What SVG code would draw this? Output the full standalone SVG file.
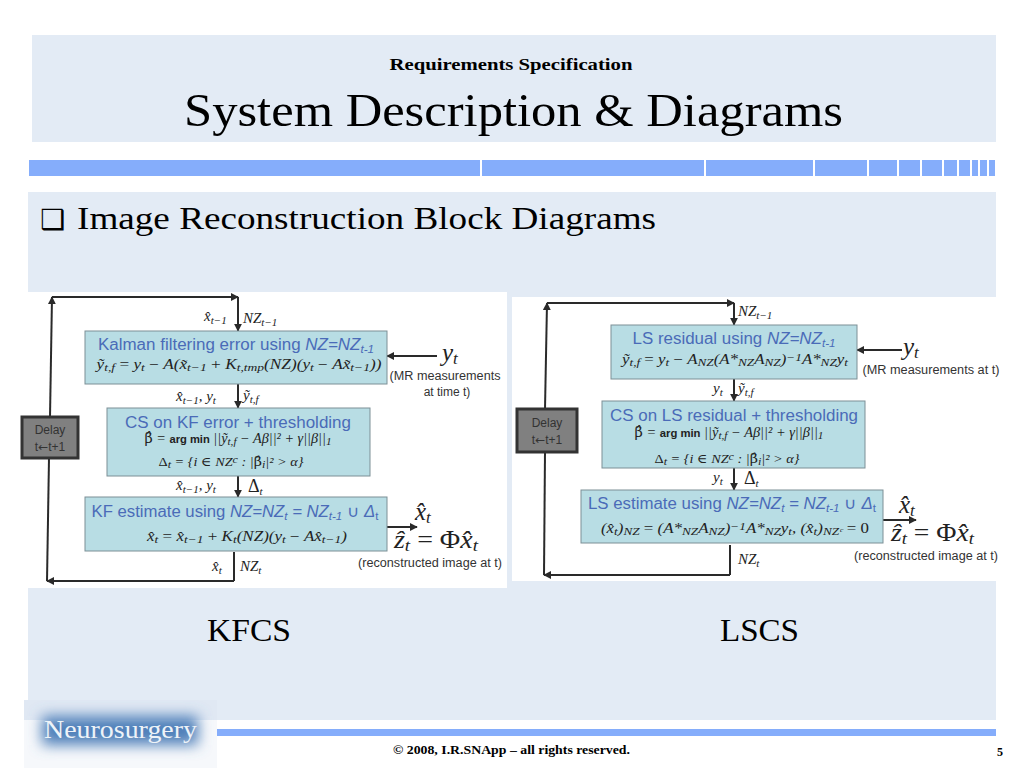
<svg xmlns="http://www.w3.org/2000/svg" width="1024" height="768" viewBox="0 0 1024 768">
<style>
.serif{font-family:"Liberation Serif",serif}
.hd{font-family:"Liberation Serif",serif;fill:#000}
.blue{font-family:"Liberation Sans",sans-serif;fill:#4a6bb8;font-size:16px;text-anchor:middle}
.blue .i{font-style:italic}
.sub{font-size:11px}
.note{font-family:"Liberation Sans",sans-serif;fill:#333;font-size:12px;text-anchor:middle}
.m{font-family:"Liberation Serif","DejaVu Serif",serif;font-style:italic;fill:#222;font-size:15px}
.m13{font-size:14px}
.m12{font-size:13px}
.big{font-size:25px}
.big .b2{font-size:17px}
.c{text-anchor:middle}
.box{fill:#b8dde4;stroke:#7d8f96;stroke-width:1}
.delay{fill:#808080;stroke:#333;stroke-width:3}
.dtx{font-family:"Liberation Sans",sans-serif;fill:#333;font-size:12px;text-anchor:middle}
.ln{fill:none;stroke:#2a2a2a;stroke-width:2}
.seg{fill:#85adfb}
.am{font-family:"Liberation Sans",sans-serif;font-style:normal;font-weight:bold;font-size:11px}
.bh{font-family:"DejaVu Serif",serif;font-style:normal}
</style>
<defs>
<marker id="a" markerWidth="4" markerHeight="4" refX="3.600" refY="2" orient="auto" markerUnits="strokeWidth"><path d="M0,0L4,2L0,4z" fill="#2a2a2a"/></marker>
<filter id="bl" x="-30%" y="-80%" width="160%" height="260%"><feGaussianBlur stdDeviation="7"/></filter>
</defs>
<rect width="1024" height="768" fill="#fff"/>
<g id="header">
<rect x="32" y="35" width="964" height="107" fill="#e3ebf5"/>
<text class="hd c" x="511" y="70" font-size="16" font-weight="bold" textLength="243" lengthAdjust="spacingAndGlyphs">Requirements Specification</text>
<text class="hd c" x="513.500" y="126" font-size="46" textLength="659" lengthAdjust="spacingAndGlyphs">System Description &amp; Diagrams</text>
</g>
<g id="bar">
<rect class="seg" x="29" y="160" width="451" height="16"/>
<rect class="seg" x="482" y="160" width="222" height="16"/>
<rect class="seg" x="706" y="160" width="107" height="16"/>
<rect class="seg" x="815" y="160" width="52" height="16"/>
<rect class="seg" x="869" y="160" width="28" height="16"/>
<rect class="seg" x="899" y="160" width="21" height="16"/>
<rect class="seg" x="922" y="160" width="20" height="16"/>
<rect class="seg" x="944" y="160" width="13" height="16"/>
<rect class="seg" x="959" y="160" width="11" height="16"/>
<rect class="seg" x="972" y="160" width="6" height="16"/>
<rect class="seg" x="980" y="160" width="7" height="16"/>
<rect class="seg" x="989" y="160" width="6" height="16"/>
</g>
<g id="panel">
<rect x="28" y="192" width="968" height="528" fill="#e3ebf5"/>
<text x="40" y="229" font-family="DejaVu Sans, sans-serif" font-size="28" fill="#000">❑</text>
<text class="hd" x="77" y="229" font-size="32" textLength="579" lengthAdjust="spacingAndGlyphs">Image Reconstruction Block Diagrams</text>
<text class="hd c" x="249" y="641" font-size="32" textLength="84" lengthAdjust="spacingAndGlyphs">KFCS</text>
<text class="hd c" x="759.500" y="641" font-size="32" textLength="79" lengthAdjust="spacingAndGlyphs">LSCS</text>
</g>
<rect x="28" y="292" width="479" height="296" fill="#fff"/>
<rect x="512" y="297" width="484" height="284" fill="#fff"/>
<g id="connectors">
<path class="ln" marker-end="url(#a)" d="M50,417L52,297"/>
<path class="ln" marker-end="url(#a)" d="M52,297H238"/>
<path class="ln" marker-end="url(#a)" d="M238,297V331"/>
<path class="ln" marker-end="url(#a)" d="M238,384V408"/>
<path class="ln" marker-end="url(#a)" d="M238,476V497"/>
<path class="ln" d="M234,552V581"/>
<path class="ln" marker-end="url(#a)" d="M234,581H47"/>
<path class="ln" d="M47,581L49,458"/>
<path class="ln" marker-end="url(#a)" d="M437,356H387"/>
<path class="ln" marker-end="url(#a)" d="M387,527H417"/>
<path class="ln" marker-end="url(#a)" d="M545,409L547,303"/>
<path class="ln" marker-end="url(#a)" d="M547,303H734"/>
<path class="ln" marker-end="url(#a)" d="M734,303V325"/>
<path class="ln" marker-end="url(#a)" d="M734,379V401"/>
<path class="ln" marker-end="url(#a)" d="M734,468V490"/>
<path class="ln" d="M730,545V575"/>
<path class="ln" marker-end="url(#a)" d="M730,575H544"/>
<path class="ln" d="M544,575L545,452"/>
<path class="ln" marker-end="url(#a)" d="M902,350H857"/>
<path class="ln" marker-end="url(#a)" d="M883,520H916"/>
</g>
<g id="kf-labels">
<text class="m" x="204" y="321">x̂<tspan class="sub" dy="3">t−1</tspan></text>
<text class="m" x="243" y="323">NZ<tspan class="sub" dy="3">t−1</tspan></text>
<text class="m" x="176" y="401">x̂<tspan class="sub" dy="3">t−1</tspan><tspan dy="-3">,  y</tspan><tspan class="sub" dy="3">t</tspan></text>
<text class="m" x="243" y="400">ỹ<tspan class="sub" dy="3">t,f</tspan></text>
<text class="m" x="176" y="490">x̂<tspan class="sub" dy="3">t−1</tspan><tspan dy="-3">,  y</tspan><tspan class="sub" dy="3">t</tspan></text>
<text class="m" x="248" y="492" style="font-size:18px"><tspan font-style="normal">Δ</tspan><tspan class="sub" dy="3">t</tspan></text>
<text class="m" x="212" y="571">x̂<tspan class="sub" dy="3">t</tspan></text>
<text class="m" x="240" y="571">NZ<tspan class="sub" dy="3">t</tspan></text>
<text class="m big" x="442" y="361">y<tspan class="b2" dy="3">t</tspan></text>
<text class="note" x="445" y="380" textLength="111" lengthAdjust="spacingAndGlyphs">(MR measurements</text>
<text class="note" x="447" y="396">at time t)</text>
<text class="m big" x="415" y="520">x̂<tspan class="b2" dy="3">t</tspan></text>
<text class="m big" x="394" y="548" textLength="84" lengthAdjust="spacingAndGlyphs">ẑ<tspan class="b2" dy="3">t</tspan><tspan dy="-3" font-style="normal"> = Φ</tspan>x̂<tspan class="b2" dy="3">t</tspan></text>
<text class="note" x="430" y="567" textLength="144" lengthAdjust="spacingAndGlyphs">(reconstructed image at t)</text>
</g>
<g id="kf-delay"><rect class="delay" x="22" y="417" width="56" height="41"/><text class="dtx" x="50" y="434">Delay</text><text class="dtx" x="50" y="451">t<tspan font-family="DejaVu Sans">←</tspan>t+1</text></g>
<g id="kf-error"><rect class="box" x="85" y="331" width="302" height="53"/>
<text class="blue" x="236" y="350" textLength="276" lengthAdjust="spacingAndGlyphs">Kalman filtering error using <tspan class="i">NZ=NZ</tspan><tspan class="i sub" dy="3">t-1</tspan></text>
<text class="m m13 c" x="239" y="369" textLength="285" lengthAdjust="spacingAndGlyphs">ỹ<tspan class="sub" dy="2">t,f</tspan><tspan dy="-2" font-style="normal"> = </tspan>y<tspan class="sub" dy="2">t</tspan><tspan dy="-2" font-style="normal"> − </tspan>A(x̃<tspan class="sub" dy="2">t−1</tspan><tspan dy="-2" font-style="normal"> + </tspan>K<tspan class="sub" dy="2">t,tmp</tspan><tspan dy="-2">(NZ)(y</tspan><tspan class="sub" dy="2">t</tspan><tspan dy="-2" font-style="normal"> − </tspan>Ax̃<tspan class="sub" dy="2">t−1</tspan><tspan dy="-2">))</tspan></text></g>
<g id="kf-cs"><rect class="box" x="107" y="408" width="263" height="68"/>
<text class="blue" x="238" y="428" textLength="226" lengthAdjust="spacingAndGlyphs">CS on KF error + thresholding</text>
<text class="m m13 c" x="238" y="443" textLength="187" lengthAdjust="spacingAndGlyphs"><tspan class="bh">β̂</tspan> = <tspan class="am">arg min</tspan> ||ỹ<tspan class="sub" dy="2">t,f</tspan><tspan dy="-2"> − Aβ||²</tspan> + γ||β||<tspan class="sub" dy="2">1</tspan></text>
<text class="m m12 c" x="231" y="466" textLength="145" lengthAdjust="spacingAndGlyphs"><tspan font-style="normal">Δ</tspan><tspan class="sub" dy="2">t</tspan><tspan dy="-2"> = {i ∈ NZ</tspan><tspan class="sub" dy="-3">c</tspan><tspan dy="3"> : |</tspan><tspan class="bh">β̂</tspan><tspan class="sub" dy="2">i</tspan><tspan dy="-2">|² &gt; α}</tspan></text></g>
<g id="kf-est"><rect class="box" x="85" y="497" width="302" height="54"/>
<text class="blue" x="235" y="517" textLength="287" lengthAdjust="spacingAndGlyphs">KF estimate using <tspan class="i">NZ=NZ</tspan><tspan class="i sub" dy="3">t</tspan><tspan class="i" dy="-3"> = NZ</tspan><tspan class="i sub" dy="3">t-1</tspan><tspan dy="-3"> ∪ </tspan><tspan class="i">Δ</tspan><tspan class="sub" dy="3">t</tspan></text>
<text class="m m13 c" x="247" y="541" textLength="200" lengthAdjust="spacingAndGlyphs">x̂<tspan class="sub" dy="2">t</tspan><tspan dy="-2" font-style="normal"> = </tspan>x̂<tspan class="sub" dy="2">t−1</tspan><tspan dy="-2" font-style="normal"> + </tspan>K<tspan class="sub" dy="2">t</tspan><tspan dy="-2">(NZ)(y</tspan><tspan class="sub" dy="2">t</tspan><tspan dy="-2" font-style="normal"> − </tspan>Ax̂<tspan class="sub" dy="2">t−1</tspan><tspan dy="-2">)</tspan></text></g>
<g id="ls-labels">
<text class="m" x="738" y="316">NZ<tspan class="sub" dy="3">t−1</tspan></text>
<text class="m" x="713" y="393">y<tspan class="sub" dy="3">t</tspan></text>
<text class="m" x="738" y="393">ỹ<tspan class="sub" dy="3">t,f</tspan></text>
<text class="m" x="713" y="482">y<tspan class="sub" dy="3">t</tspan></text>
<text class="m" x="744" y="484" style="font-size:18px"><tspan font-style="normal">Δ</tspan><tspan class="sub" dy="3">t</tspan></text>
<text class="m" x="738" y="564">NZ<tspan class="sub" dy="3">t</tspan></text>
<text class="m big" x="903" y="355">y<tspan class="b2" dy="3">t</tspan></text>
<text class="note" x="931" y="374" textLength="137" lengthAdjust="spacingAndGlyphs">(MR measurements at t)</text>
<text class="m big" x="899" y="513">x̂<tspan class="b2" dy="3">t</tspan></text>
<text class="m big" x="891" y="541" textLength="83" lengthAdjust="spacingAndGlyphs">ẑ<tspan class="b2" dy="3">t</tspan><tspan dy="-3" font-style="normal"> = Φ</tspan>x̂<tspan class="b2" dy="3">t</tspan></text>
<text class="note" x="926" y="560" textLength="144" lengthAdjust="spacingAndGlyphs">(reconstructed image at t)</text>
</g>
<g id="ls-delay"><rect class="delay" x="517" y="409" width="60" height="43"/><text class="dtx" x="547" y="427">Delay</text><text class="dtx" x="547" y="444">t<tspan font-family="DejaVu Sans">←</tspan>t+1</text></g>
<g id="ls-res"><rect class="box" x="611" y="325" width="246" height="54"/>
<text class="blue" x="734" y="344" textLength="203" lengthAdjust="spacingAndGlyphs">LS residual using <tspan class="i">NZ=NZ</tspan><tspan class="i sub" dy="3">t-1</tspan></text>
<text class="m m13 c" x="735" y="364" textLength="226" lengthAdjust="spacingAndGlyphs">ỹ<tspan class="sub" dy="2">t,f</tspan><tspan dy="-2" font-style="normal"> = </tspan>y<tspan class="sub" dy="2">t</tspan><tspan dy="-2" font-style="normal"> − </tspan>A<tspan class="sub" dy="2">NZ</tspan><tspan dy="-2">(A*</tspan><tspan class="sub" dy="2">NZ</tspan><tspan dy="-2">A</tspan><tspan class="sub" dy="2">NZ</tspan><tspan dy="-2">)</tspan><tspan class="sub" dy="-3">−1</tspan><tspan dy="3">A*</tspan><tspan class="sub" dy="2">NZ</tspan><tspan dy="-2">y</tspan><tspan class="sub" dy="2">t</tspan></text></g>
<g id="ls-cs"><rect class="box" x="602" y="401" width="263" height="67"/>
<text class="blue" x="734" y="421" textLength="248" lengthAdjust="spacingAndGlyphs">CS on LS residual + thresholding</text>
<text class="m m13 c" x="729" y="437" textLength="189" lengthAdjust="spacingAndGlyphs"><tspan class="bh">β̂</tspan> = <tspan class="am">arg min</tspan> ||ỹ<tspan class="sub" dy="2">t,f</tspan><tspan dy="-2"> − Aβ||²</tspan> + γ||β||<tspan class="sub" dy="2">1</tspan></text>
<text class="m m12 c" x="727" y="463" textLength="145" lengthAdjust="spacingAndGlyphs"><tspan font-style="normal">Δ</tspan><tspan class="sub" dy="2">t</tspan><tspan dy="-2"> = {i ∈ NZ</tspan><tspan class="sub" dy="-3">c</tspan><tspan dy="3"> : |</tspan><tspan class="bh">β̂</tspan><tspan class="sub" dy="2">i</tspan><tspan dy="-2">|² &gt; α}</tspan></text></g>
<g id="ls-est"><rect class="box" x="581" y="490" width="302" height="53"/>
<text class="blue" x="732" y="509" textLength="288" lengthAdjust="spacingAndGlyphs">LS estimate using <tspan class="i">NZ=NZ</tspan><tspan class="i sub" dy="3">t</tspan><tspan class="i" dy="-3"> = NZ</tspan><tspan class="i sub" dy="3">t-1</tspan><tspan dy="-3"> ∪ </tspan><tspan class="i">Δ</tspan><tspan class="sub" dy="3">t</tspan></text>
<text class="m m13 c" x="735" y="533" textLength="268" lengthAdjust="spacingAndGlyphs">(x̂<tspan class="sub" dy="2">t</tspan><tspan dy="-2">)</tspan><tspan class="sub" dy="2">NZ</tspan><tspan dy="-2" font-style="normal"> = </tspan>(A*<tspan class="sub" dy="2">NZ</tspan><tspan dy="-2">A</tspan><tspan class="sub" dy="2">NZ</tspan><tspan dy="-2">)</tspan><tspan class="sub" dy="-3">−1</tspan><tspan dy="3">A*</tspan><tspan class="sub" dy="2">NZ</tspan><tspan dy="-2">y</tspan><tspan class="sub" dy="2">t</tspan><tspan dy="-2">, (x̂</tspan><tspan class="sub" dy="2">t</tspan><tspan dy="-2">)</tspan><tspan class="sub" dy="2">NZᶜ</tspan><tspan dy="-2" font-style="normal"> = 0</tspan></text></g>
<g id="footer">
<rect x="217" y="729" width="779" height="7" fill="#85adfb"/>
<rect x="24" y="700" width="193" height="68" fill="#f6f8fb"/>
<rect x="24" y="700" width="193" height="20" fill="#e0e8f3"/>
<rect x="42" y="716" width="156" height="29" fill="#4f80ba" filter="url(#bl)"/>
<text class="serif" x="44" y="738" font-size="26" fill="#eef3f8" textLength="153" lengthAdjust="spacingAndGlyphs">Neurosurgery</text>
<text class="hd c" x="511.500" y="754" font-size="12" font-weight="bold" textLength="237" lengthAdjust="spacingAndGlyphs">© 2008, I.R.SNApp – all rights reserved.</text>
<text class="hd" x="997" y="756" font-size="12" font-weight="bold">5</text>
</g>
</svg>
